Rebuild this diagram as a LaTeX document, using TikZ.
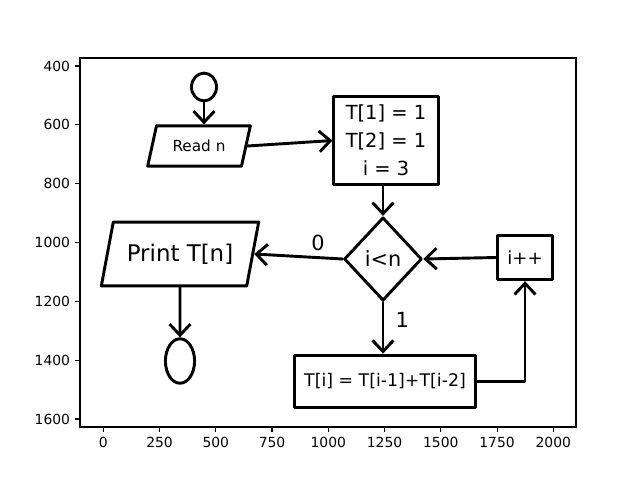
\documentclass[tikz,border=0pt]{standalone}
\usepackage{fontspec}
\setmainfont{DejaVu Sans}
\usepackage{tikz}
\usetikzlibrary{positioning,arrows.meta,shapes.geometric}
\definecolor{hink}{HTML}{000000}
\definecolor{axink}{HTML}{000000}
\tikzset{
  ink/.style     ={draw=hink, line width=2.1pt, line cap=round, line join=round},
  hbox/.style    ={ink, rectangle, inner sep=0pt, align=center},
  hio/.style     ={ink, trapezium, trapezium stretches=true, trapezium left angle=65,
                   trapezium right angle=115, inner sep=0pt},
  hdec/.style    ={ink, diamond, inner sep=0pt},
  hterm/.style   ={ink, ellipse, inner sep=0pt},
  flow/.style    ={ink, -{Straight Barb[length=8pt, width=15pt]}},
  edgelbl/.style ={font=\fontsize{15}{15}\selectfont, inner sep=0pt},
  axtick/.style  ={draw=axink, line width=0.8pt},
  ticklbl/.style ={font=\fontsize{10}{12}\selectfont, inner sep=0pt},
}

\begin{document}
\begin{tikzpicture}[x=0.72pt, y=-0.72pt]
  \useasboundingbox[fill=white] (0,0) rectangle (640,480);
  % axes frame and ticks
  \draw[axtick] (80,58) rectangle (576,427);
  \foreach \v [count=\i from 0] in {0,250,...,2000} {
    \draw[axtick] ({103.3+56.25*\i},427) -- ({103.3+56.25*\i},431.9);
    \node[ticklbl, anchor=north] (xt\i) at ({103.3+56.25*\i},436.7) {\v};
  }
  \foreach \v [count=\i from 0] in {400,600,...,1600} {
    \draw[axtick] (80,{66+58.83*\i}) -- (75.1,{66+58.83*\i});
    \node[ticklbl, anchor=east] (yt\i) at (70.3,{66+58.83*\i}) {\v};
  }
  % flowchart
  \node[hterm, minimum width=18pt, minimum height=20pt] (start) at (204,87) {};
  \node[hio, minimum width=74pt, minimum height=29pt, font=\fontsize{11}{11}\selectfont] (read) at (199,146) {Read n};
  \node[hbox, minimum width=75pt, minimum height=63pt, font=\fontsize{14}{20}\selectfont] (init) at (386,140.5) {T[1] = 1\\T[2] = 1\\i = 3};
  \node[hdec, minimum width=56pt, minimum height=60pt, font=\fontsize{15}{15}\selectfont] (test) at (383,259) {i<n};
  \node[hio, minimum width=114pt, minimum height=46pt, font=\fontsize{16.5}{16.5}\selectfont] (print) at (180,254) {Print T[n]};
  \node[hterm, minimum width=21pt, minimum height=32pt] (stop) at (180,361) {};
  \node[hbox, minimum width=130pt, minimum height=38pt, font=\fontsize{12.5}{12.5}\selectfont] (calc) at (385,381.5) {T[i] = T[i-1]+T[i-2]};
  \node[hbox, minimum width=39pt, minimum height=32pt, font=\fontsize{13}{13}\selectfont] (incr) at (525,257.5) {i++};

  \draw[flow] (start) -- (start |- read.north);
  \draw[flow] (read.east) -- (init.west);
  \draw[flow] (init.south -| test) -- (test.north);
  \draw[flow] (test.west) -- node[edgelbl, pos=0.28, above=4pt] (lzero) {0} (print.east);
  \draw[flow] (print.south) -- (stop);
  \draw[flow] (test.south) -- node[edgelbl, pos=0.35, right=8pt] (lone) {1} (test.south |- calc.north);
  \draw[flow] (calc.east) -- (calc.east -| incr.south) -- (incr.south);
  \draw[flow] (incr.west) -- (test.east);
\end{tikzpicture}
\end{document}
